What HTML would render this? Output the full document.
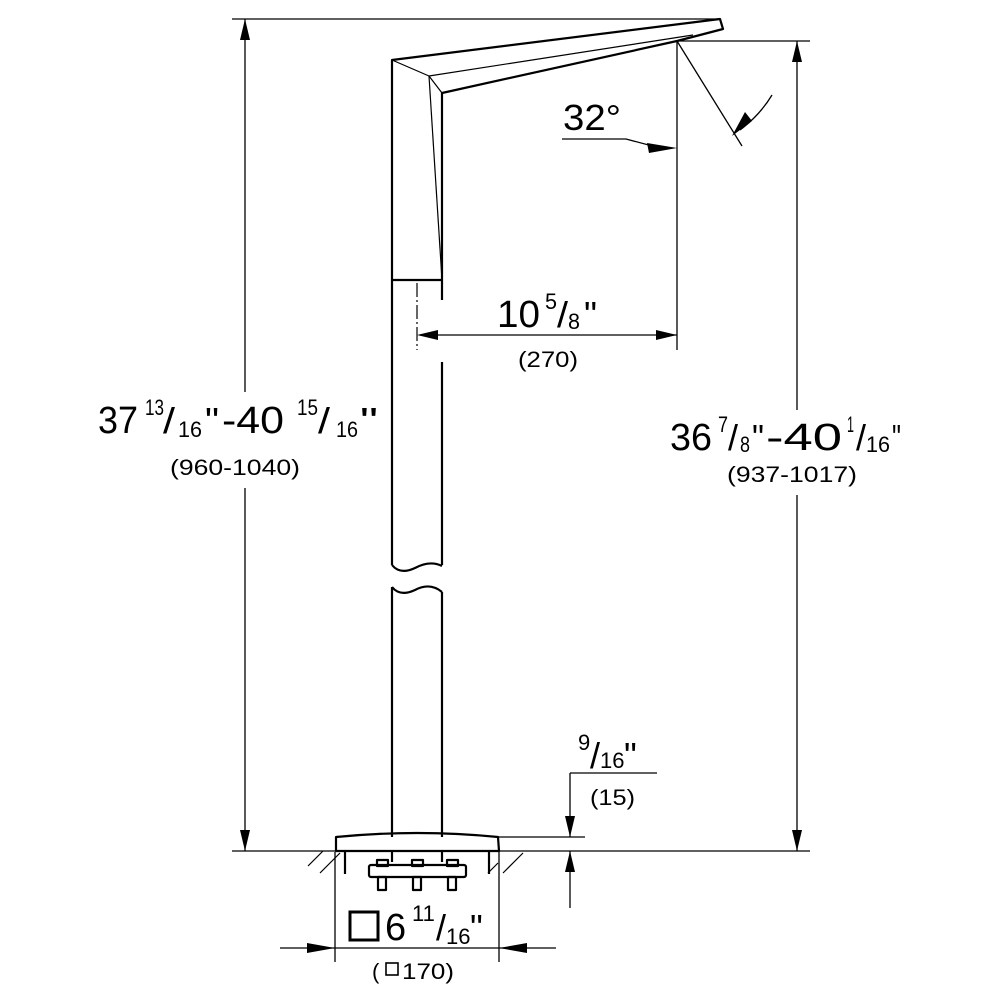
<!DOCTYPE html>
<html><head><meta charset="utf-8"><style>
html,body{margin:0;padding:0;background:#fff}
svg{display:block}
text{font-family:"Liberation Sans",Arial,sans-serif;fill:#000}
</style></head><body>
<svg width="1000" height="1000" viewBox="0 0 1000 1000" xmlns="http://www.w3.org/2000/svg">
<g stroke="#000" fill="none" stroke-width="1.3">
 <line x1="232" y1="19" x2="720" y2="19"/>
 <line x1="245" y1="19" x2="245" y2="392"/>
 <line x1="245" y1="488" x2="245" y2="851"/>
 <line x1="677" y1="41" x2="810" y2="41"/>
 <line x1="797" y1="41" x2="797" y2="410"/>
 <line x1="797" y1="495" x2="797" y2="851"/>
 <line x1="232" y1="851" x2="810" y2="851"/>
 <line x1="677" y1="41" x2="677" y2="350"/>
 <line x1="420" y1="335" x2="677" y2="335"/>
 <line x1="677" y1="41" x2="742" y2="146"/>
 <path d="M562 139 L626 139 L660 148"/>
 <path d="M772 95 Q760 115 740 130"/>
 <line x1="570" y1="773" x2="657" y2="773"/>
 <line x1="570" y1="773" x2="570" y2="837"/>
 <line x1="499" y1="837" x2="585" y2="837"/>
 <line x1="570" y1="851" x2="570" y2="908"/>
 <line x1="280" y1="948" x2="556" y2="948"/>
 <line x1="335" y1="852" x2="335" y2="962"/>
 <line x1="499" y1="852" x2="499" y2="962"/>
</g>
<g fill="#000">
 <polygon points="245,19 240,40 250,40"/>
 <polygon points="245,851 240,830 250,830"/>
 <polygon points="797,41 792,62 802,62"/>
 <polygon points="797,851 792,830 802,830"/>
 <polygon points="417,335 438,330 438,340"/>
 <polygon points="677,335 656,330 656,340"/>
 <polygon points="677,148 647,143 649,153"/>
 <polygon points="732,136 745,112 752,121"/>
 <polygon points="570,837 565,816 575,816"/>
 <polygon points="570,851 565,872 575,872"/>
 <polygon points="335,948 307,943 307,953"/>
 <polygon points="499,948 527,943 527,953"/>
</g>
<g stroke="#000" fill="none" stroke-width="2.2" stroke-linejoin="round">
 <path d="M392 565 L392 60 L720 19 L723 29 L677 41 L442 93 L442 300"/>
 <line x1="442" y1="362" x2="442" y2="565"/>
 <path d="M392 565 Q400 575 415 568 Q430 560 442 566"/>
 <path d="M392 587 Q400 597 415 590 Q430 582 442 592"/>
 <line x1="392" y1="587" x2="392" y2="837"/>
 <line x1="442" y1="592" x2="442" y2="837"/>
 <line x1="392" y1="280" x2="442" y2="280"/>
 <path d="M336 837 Q417 829 498 837 L499 851 L336 851 Z"/>
 <rect x="369" y="865" width="97" height="12" rx="2"/>
 <rect x="377" y="860" width="11" height="6"/>
 <rect x="412" y="860" width="11" height="6"/>
 <rect x="447" y="860" width="11" height="6"/>
 <rect x="378" y="877" width="8" height="13"/>
 <rect x="413" y="877" width="8" height="13"/>
 <rect x="448" y="877" width="8" height="13"/>
 <line x1="392" y1="851" x2="392" y2="862"/>
 <line x1="442" y1="851" x2="442" y2="862"/>
 <line x1="345" y1="851" x2="345" y2="874"/>
 <line x1="489" y1="851" x2="489" y2="874"/>
</g>
<g stroke="#000" fill="none" stroke-width="1.2">
 <line x1="392" y1="60" x2="429" y2="76"/>
 <line x1="429" y1="76" x2="442" y2="93"/>
 <line x1="429" y1="76" x2="693" y2="35"/>
 <line x1="429" y1="76" x2="442" y2="280"/>
 <line x1="417" y1="283" x2="417" y2="350" stroke-dasharray="14 3 2 3"/>
 <line x1="308" y1="866" x2="323" y2="851"/><line x1="320" y1="873" x2="340" y2="853"/>
 <line x1="503" y1="873" x2="523" y2="853"/><line x1="488" y1="873" x2="498" y2="863"/>
</g>
<text x="563" y="130" font-size="36" textLength="58" lengthAdjust="spacingAndGlyphs">32°</text>

<text x="497" y="327" font-size="38" textLength="43" lengthAdjust="spacingAndGlyphs">10</text>
<text x="545" y="309" font-size="22" textLength="12" lengthAdjust="spacingAndGlyphs">5</text>
<text x="557" y="327" font-size="36" textLength="11" lengthAdjust="spacingAndGlyphs">/</text>
<text x="568" y="329" font-size="22" textLength="12" lengthAdjust="spacingAndGlyphs">8</text>
<text x="584" y="327" font-size="36" textLength="13" lengthAdjust="spacingAndGlyphs">"</text>
<text x="518" y="367" font-size="22" textLength="60" lengthAdjust="spacingAndGlyphs">(270)</text>

<text x="98" y="433" font-size="38" textLength="40" lengthAdjust="spacingAndGlyphs">37</text>
<text x="145" y="415" font-size="22" textLength="19" lengthAdjust="spacingAndGlyphs">13</text>
<text x="163" y="433" font-size="36" textLength="12" lengthAdjust="spacingAndGlyphs">/</text>
<text x="178" y="437" font-size="22" textLength="24" lengthAdjust="spacingAndGlyphs">16</text>
<text x="205" y="433" font-size="36" textLength="14" lengthAdjust="spacingAndGlyphs">"</text>
<text x="222" y="433" font-size="38" textLength="62" lengthAdjust="spacingAndGlyphs">-40</text>
<text x="297" y="415" font-size="22" textLength="21" lengthAdjust="spacingAndGlyphs">15</text>
<text x="318" y="433" font-size="36" textLength="12" lengthAdjust="spacingAndGlyphs">/</text>
<text x="336" y="437" font-size="22" textLength="22" lengthAdjust="spacingAndGlyphs">16</text>
<text x="360" y="433" font-size="36" textLength="18" lengthAdjust="spacingAndGlyphs">"</text>
<text x="170" y="475" font-size="22" textLength="130" lengthAdjust="spacingAndGlyphs">(960-1040)</text>

<text x="670" y="450" font-size="38" textLength="42" lengthAdjust="spacingAndGlyphs">36</text>
<text x="718" y="432" font-size="22" textLength="10" lengthAdjust="spacingAndGlyphs">7</text>
<text x="728" y="450" font-size="36" textLength="10" lengthAdjust="spacingAndGlyphs">/</text>
<text x="740" y="452" font-size="22" textLength="10" lengthAdjust="spacingAndGlyphs">8</text>
<text x="752" y="450" font-size="36" textLength="12" lengthAdjust="spacingAndGlyphs">"</text>
<text x="766" y="450" font-size="38" textLength="76" lengthAdjust="spacingAndGlyphs">-40</text>
<text x="847" y="432" font-size="22" textLength="7" lengthAdjust="spacingAndGlyphs">1</text>
<text x="856" y="450" font-size="36" textLength="10" lengthAdjust="spacingAndGlyphs">/</text>
<text x="866" y="452" font-size="22" textLength="24" lengthAdjust="spacingAndGlyphs">16</text>
<text x="892" y="450" font-size="36" textLength="9" lengthAdjust="spacingAndGlyphs">"</text>
<text x="727" y="482" font-size="22" textLength="130" lengthAdjust="spacingAndGlyphs">(937-1017)</text>

<text x="578" y="750" font-size="22">9</text>
<text x="590" y="768" font-size="36">/</text>
<text x="600" y="768" font-size="22">16</text>
<text x="624" y="768" font-size="36">"</text>
<text x="590" y="805" font-size="22" textLength="45" lengthAdjust="spacingAndGlyphs">(15)</text>

<rect x="350" y="912" width="28" height="28" fill="none" stroke="#000" stroke-width="3"/>
<text x="385" y="940" font-size="38">6</text>
<text x="412" y="921" font-size="22">11</text>
<text x="436" y="940" font-size="36">/</text>
<text x="446" y="944" font-size="22">16</text>
<text x="470" y="940" font-size="36">"</text>
<text x="372" y="979" font-size="22">(</text>
<rect x="386" y="963" width="12" height="12" fill="none" stroke="#000" stroke-width="1.6"/>
<text x="402" y="979" font-size="22" textLength="52" lengthAdjust="spacingAndGlyphs">170)</text>
</svg>
</body></html>
